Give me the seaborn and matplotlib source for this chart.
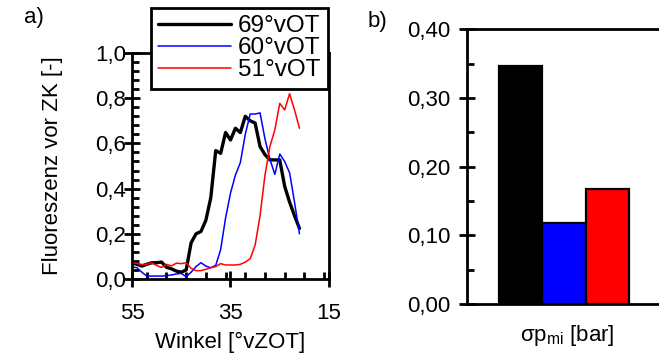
import numpy as np
import pandas as pd
import matplotlib
matplotlib.use("Agg")
import matplotlib.pyplot as plt
from matplotlib.ticker import MultipleLocator
import seaborn as sns

sns.set_theme(style="white")
plt.rcParams["font.family"] = ["Liberation Sans", "DejaVu Sans"]
plt.rcParams["mathtext.fontset"] = "custom"
plt.rcParams["mathtext.rm"] = "Liberation Sans"
for key in ["text.color", "axes.labelcolor", "xtick.color", "ytick.color"]:
    plt.rcParams[key] = "black"

# Crank angle [°vZOT]
angle = list(range(55, 20, -1))

# Fluorescence before ignition for three injection timings
fl_69 = [0.072, 0.065, 0.057, 0.065, 0.072, 0.072, 0.075, 0.052, 0.045, 0.035,
         0.030, 0.040, 0.160, 0.200, 0.210, 0.260, 0.360, 0.568, 0.556, 0.648,
         0.615, 0.667, 0.648, 0.720, 0.700, 0.690, 0.586, 0.550, 0.527, 0.527,
         0.527, 0.410, 0.340, 0.280, 0.224]
fl_60 = [0.054, 0.050, 0.030, 0.013, 0.013, 0.013, 0.013, 0.015, 0.018, 0.022,
         0.025, 0.010, 0.030, 0.055, 0.072, 0.057, 0.050, 0.060, 0.130, 0.270,
         0.380, 0.460, 0.515, 0.640, 0.730, 0.730, 0.735, 0.620, 0.530, 0.463,
         0.553, 0.520, 0.470, 0.340, 0.200]
fl_51 = [0.072, 0.069, 0.064, 0.065, 0.072, 0.060, 0.051, 0.065, 0.058, 0.070,
         0.068, 0.072, 0.047, 0.037, 0.037, 0.043, 0.050, 0.055, 0.068, 0.062,
         0.062, 0.062, 0.065, 0.075, 0.090, 0.150, 0.280, 0.460, 0.586, 0.660,
         0.777, 0.748, 0.820, 0.748, 0.667]

series_labels = ["69°vOT", "60°vOT", "51°vOT"]
series_colors = ["#000000", "#0000ff", "#ff0000"]
series_widths = [2.4, 1.1, 1.1]

# Standard deviation of indicated mean pressure [bar]
sigma_pmi = [0.347, 0.118, 0.167]

FS = 16
SPW = 2.0

fig = plt.figure(figsize=(6.59, 3.56), dpi=100)

# ---------------- panel a ----------------
ax1 = fig.add_axes([132 / 659, 1 - 279 / 356, 197 / 659, 226 / 356])
df = pd.DataFrame({"angle": angle, "69": fl_69, "60": fl_60, "51": fl_51})
for key, lab, col, lw in zip(["69", "60", "51"], series_labels, series_colors, series_widths):
    sns.lineplot(data=df, x="angle", y=key, ax=ax1, color=col, linewidth=lw,
                 label=lab, legend=False)

ax1.set_xlim(55, 15)
ax1.set_ylim(0, 1.0)
ax1.set_xticks([55, 35, 15])
ax1.set_xticklabels(["55", "35", "15"])
ax1.xaxis.set_minor_locator(MultipleLocator(4))
ax1.set_yticks([0, 0.2, 0.4, 0.6, 0.8, 1.0])
ax1.set_yticklabels(["0,0", "0,2", "0,4", "0,6", "0,8", "1,0"])
ax1.yaxis.set_minor_locator(MultipleLocator(0.04))
ax1.tick_params(axis="both", which="both", bottom=True, left=True, top=False, right=False)
ax1.tick_params(axis="both", which="major", direction="inout", length=12, width=SPW,
                labelsize=FS, color="black")
ax1.tick_params(axis="both", which="minor", direction="in", length=5, width=SPW,
                color="black")
ax1.tick_params(axis="x", which="major", pad=11)
ax1.tick_params(axis="y", which="major", pad=-2)
for s in ax1.spines.values():
    s.set_visible(True)
    s.set_linewidth(SPW)
    s.set_color("black")
ax1.set_xlabel("Winkel [°vZOT]", fontsize=FS)
ax1.set_ylabel("Fluoreszenz vor ZK [-]", fontsize=FS)
ax1.xaxis.set_label_coords(0.5, -0.235)
ax1.yaxis.set_label_coords(-0.35, 0.5)

leg = fig.legend(handles=ax1.get_lines()[:3], labels=series_labels,
                 loc="upper right", bbox_to_anchor=(328 / 659, 1 - 8 / 356),
                 fontsize=17.5, frameon=True, fancybox=False, framealpha=1,
                 edgecolor="black", handlelength=3.0, handletextpad=0.3,
                 labelspacing=0.0, borderpad=0.3, borderaxespad=0)
leg.get_frame().set_linewidth(SPW)

fig.text(34 / 659, 1 - 17 / 356, "a)", fontsize=FS, ha="center", va="center")

# ---------------- panel b ----------------
ax2 = fig.add_axes([467 / 659, 1 - 304 / 356, 200 / 659, 274.7 / 356])
bdf = pd.DataFrame({"timing": series_labels, "sigma": sigma_pmi})
sns.barplot(data=bdf, x="timing", y="sigma", hue="timing", palette=series_colors,
            width=1.0, edgecolor="black", linewidth=1.6, legend=False, ax=ax2,
            saturation=1)
ax2.set_xlim(-1.24, 3.38)
ax2.set_ylim(0, 0.40)
ax2.set_yticks([0, 0.1, 0.2, 0.3, 0.4])
ax2.set_yticklabels(["0,00", "0,10", "0,20", "0,30", "0,40"])
ax2.yaxis.set_minor_locator(MultipleLocator(0.05))
ax2.set_xticks([])
ax2.tick_params(axis="y", which="both", left=True, right=False)
ax2.tick_params(axis="y", which="major", direction="inout", length=12, width=SPW,
                labelsize=FS, pad=6, color="black")
ax2.tick_params(axis="y", which="minor", direction="in", length=5, width=SPW,
                color="black")
for s in ax2.spines.values():
    s.set_visible(True)
    s.set_linewidth(SPW)
    s.set_color("black")
ax2.set_xlabel("σp$_{\\mathrm{mi}}$ [bar]", fontsize=FS)
ax2.xaxis.set_label_coords((567 - 467) / 200, -0.07)
ax2.set_ylabel("")

fig.text(377 / 659, 1 - 22 / 356, "b)", fontsize=FS, ha="center", va="center")

fig.savefig("out.png", dpi=100)
